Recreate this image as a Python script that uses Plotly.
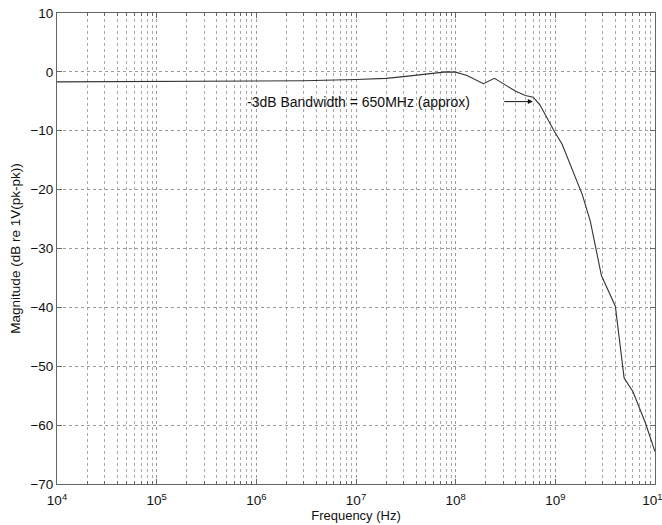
import math
import plotly.graph_objects as go

freq_hz = [1e4, 1e5, 1e6, 3e6, 1e7, 2e7, 3e7, 5e7, 8e7, 1e8, 1.3e8, 1.9e8, 2.45e8, 3e8, 4e8,
           5e8, 6e8, 7e8, 8e8, 9.7e8, 1.17e9, 1.5e9, 1.86e9, 2.24e9, 2.9e9, 4e9, 4.9e9,
           6e9, 8e9, 1e10]
mag_db = [-1.7, -1.65, -1.6, -1.5, -1.3, -1.1, -0.8, -0.35, 0.0, -0.05, -0.6, -2.0, -1.1, -2.0,
          -3.3, -4.0, -4.3, -5.6, -7.5, -10.0, -12.3, -17.0, -20.8, -25.3, -34.6, -39.8, -52.0,
          -54.3, -59.6, -64.5]

x_tickvals = [1e4, 1e5, 1e6, 1e7, 1e8, 1e9, 1e10]
x_ticktext = ["10<sup>4</sup>", "10<sup>5</sup>", "10<sup>6</sup>", "10<sup>7</sup>",
              "10<sup>8</sup>", "10<sup>9</sup>", "10<sup>10</sup>"]
y_tickvals = [10, 0, -10, -20, -30, -40, -50, -60, -70]
minor_mult = [2, 3, 4, 5, 6, 7, 8, 9]

annot_text = "-3dB Bandwidth = 650MHz (approx)"
arrow_head = (5.94e8, -5.05)
arrow_tail = (2.97e8, -5.05)

minor_vals = [m * d for d in x_tickvals[:-1] for m in minor_mult]

fig = go.Figure()
fig.add_trace(go.Scatter(x=freq_hz, y=mag_db, mode="lines",
                         line=dict(color="#333333", width=1.1), showlegend=False))

fig.add_annotation(x=math.log10(arrow_head[0]), y=arrow_head[1], ax=math.log10(arrow_tail[0]),
                   ay=arrow_tail[1], axref="x", ayref="y", xref="x", yref="y",
                   showarrow=True, arrowhead=2, arrowsize=1, arrowwidth=1, arrowcolor="#111111",
                   text="")
fig.add_annotation(x=math.log10(arrow_tail[0]), y=arrow_tail[1], xref="x", yref="y",
                   text=annot_text, showarrow=False, xanchor="right", xshift=-31,
                   font=dict(size=14, color="#111111"))

axis_common = dict(showline=True, linecolor="#666666", linewidth=1, mirror="ticks",
                   ticks="inside", ticklen=5, tickcolor="#666666", automargin=False,
                   showgrid=True, gridcolor="#9a9a9a", griddash="dot", gridwidth=1,
                   zeroline=False, tickfont=dict(size=13.5, color="#111111"))

fig.update_xaxes(type="log", range=[4, 10], tickvals=x_tickvals, ticktext=x_ticktext,
                 ticklabeloverflow="allow", ticklabelstandoff=4,
                 title=dict(text="Frequency (Hz)", font=dict(size=13, color="#111111"), standoff=2),
                 minor=dict(tickvals=minor_vals, showgrid=True, gridcolor="#a8a8a8",
                            griddash="dot", ticks="inside", ticklen=3, tickcolor="#666666"),
                 **axis_common)
fig.update_yaxes(range=[-70, 10], tickvals=y_tickvals,
                 title=dict(text="Magnitude (dB re 1V(pk-pk))", font=dict(size=13.5, color="#111111"),
                            standoff=6),
                 **axis_common)

fig.update_layout(width=662, height=525, margin=dict(l=57, r=7, t=13, b=41),
                  paper_bgcolor="white", plot_bgcolor="white",
                  font=dict(family="Liberation Sans, Arial, sans-serif", size=13, color="#111111"))

fig.write_html("out.html")
